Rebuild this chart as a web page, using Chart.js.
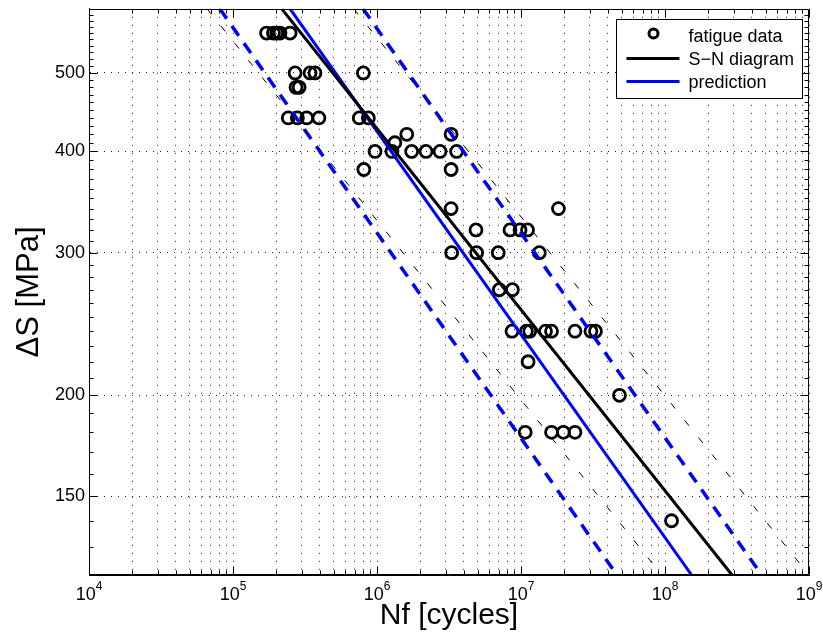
<!DOCTYPE html>
<html>
<head>
<meta charset="utf-8">
<script src="https://cdn.jsdelivr.net/npm/chart.js@4.4.1/dist/chart.umd.min.js"></script>
<style>
  html, body { margin: 0; padding: 0; background: #fff; }
  #wrap { width: 823px; height: 639px; position: relative; }
</style>
</head>
<body>
<div id="wrap"><canvas id="snChart"></canvas></div>
<script>
// -------------------------
// Data
// -------------------------
// fatigue tests: cycles to failure / stress range [MPa]
const testCycles = [
  1.71e5, 1.91e5, 2.01e5, 2.12e5, 2.49e5,
  2.70e5, 3.43e5, 3.71e5, 8.04e5,
  2.74e5, 2.88e5,
  2.42e5, 2.80e5, 3.25e5, 3.95e5, 7.53e5, 8.71e5,
  1.61e6, 3.27e6,
  1.33e6,
  9.69e5, 1.27e6, 1.74e6, 2.19e6, 2.74e6, 3.57e6,
  8.10e5, 3.27e6,
  3.27e6, 1.82e7,
  4.87e6, 8.39e6, 9.85e6, 1.11e7,
  3.30e6, 4.92e6, 6.95e6, 1.34e7,
  7.07e6, 8.71e6,
  8.66e6, 1.09e7, 1.15e7, 1.48e7, 1.63e7, 2.37e7, 3.06e7, 3.29e7,
  1.12e7,
  4.83e7,
  1.07e7, 1.63e7, 1.97e7, 2.37e7,
  1.11e8,
];
const testStress = [
  560, 560, 560, 560, 560,
  500, 500, 500, 500,
  480, 480,
  440, 440, 440, 440, 440, 440,
  420, 420,
  410,
  400, 400, 400, 400, 400, 400,
  380, 380,
  340, 340,
  320, 320, 320, 320,
  300, 300, 300, 300,
  270, 270,
  240, 240, 240, 240, 240, 240, 240, 240,
  220,
  200,
  180, 180, 180, 180,
  140,
];

// curves: end points where they leave the axes (stress 600 -> 120)
const curveStress = [600, 120];
const snCycles = [2.18e5, 2.92e8];
const snLowerCycles = [6.6e4, 9.5e7];
const snUpperCycles = [6.9e5, 1.0e9];
const predCycles = [2.49e5, 1.53e8];
const predLowerCycles = [8.1e4, 4.64e7];
const predUpperCycles = [8.0e5, 4.69e8];

// axes
const xDecades = [4, 5, 6, 7, 8, 9];
const yTickValues = [150, 200, 300, 400, 500];
const yMinorStep = 10;

const FONT = "'Liberation Sans', Arial, Helvetica, sans-serif";
const BLUE = "#0000ff";

const toPoints = (xs, ys) => xs.map((x, i) => ({ x, y: ys[i] }));

// all 1..9 x 10^k ticks for the log x axis
function logXTicks() {
  const out = [];
  xDecades.forEach(k => {
    const top = k === xDecades[xDecades.length - 1] ? 1 : 9;
    for (let m = 1; m <= top; m++) out.push({ value: m * 10 ** k, major: m === 1 });
  });
  return out;
}

function yMinorValues(min, max) {
  const out = [];
  for (let v = Math.ceil(min / yMinorStep) * yMinorStep; v <= max; v += yMinorStep) {
    if (!yTickValues.includes(v)) out.push(v);
  }
  return out;
}

// -------------------------
// Inward ticks, box, x labels with exponents
// -------------------------
const matlabAxes = {
  id: "matlabAxes",
  afterDatasetsDraw(chart) {
    const { ctx, chartArea: a, scales: { x, y } } = chart;
    const L = Math.round(a.left) + 0.5, R = Math.round(a.right) - 0.5;
    const T = Math.round(a.top) + 0.5, B = Math.round(a.bottom) - 0.5;
    ctx.save();
    ctx.strokeStyle = "#000";
    ctx.lineWidth = 1;
    ctx.beginPath();
    ctx.rect(L, T, R - L, B - T);

    x.ticks.forEach(t => {
      const px = Math.round(x.getPixelForValue(t.value)) + 0.5;
      const len = t.major ? 8 : 4;
      ctx.moveTo(px, B); ctx.lineTo(px, B - len);
      ctx.moveTo(px, T); ctx.lineTo(px, T + len);
    });
    yTickValues.forEach(v => {
      const py = Math.round(y.getPixelForValue(v)) + 0.5;
      ctx.moveTo(L, py); ctx.lineTo(L + 8, py);
      ctx.moveTo(R, py); ctx.lineTo(R - 8, py);
    });
    yMinorValues(y.min, y.max).forEach(v => {
      const py = Math.round(y.getPixelForValue(v)) + 0.5;
      ctx.moveTo(L, py); ctx.lineTo(L + 4, py);
      ctx.moveTo(R, py); ctx.lineTo(R - 4, py);
    });
    ctx.stroke();

    // 10^k labels
    ctx.fillStyle = "#000";
    ctx.textBaseline = "alphabetic";
    ctx.textAlign = "left";
    xDecades.forEach(k => {
      const px = x.getPixelForValue(10 ** k);
      ctx.font = `18px ${FONT}`;
      const wb = ctx.measureText("10").width;
      ctx.font = `12px ${FONT}`;
      const we = ctx.measureText(String(k)).width;
      const start = px - (wb + we) / 2;
      ctx.font = `18px ${FONT}`;
      ctx.fillText("10", start, a.bottom + 25);
      ctx.font = `12px ${FONT}`;
      ctx.fillText(String(k), start + wb, a.bottom + 15);
    });
    ctx.restore();
  },
};

// -------------------------
// Legend box (top right, inside axes)
// -------------------------
const boxLegend = {
  id: "boxLegend",
  afterDraw(chart) {
    const { ctx } = chart;
    const entries = chart.data.datasets.filter(d => d.inLegend);
    const bx = 616.5, by = 19.5, bw = 186, bh = 79;
    ctx.save();
    ctx.fillStyle = "#fff";
    ctx.fillRect(bx, by, bw, bh);
    ctx.strokeStyle = "#000";
    ctx.lineWidth = 1;
    ctx.strokeRect(bx, by, bw, bh);
    ctx.font = `18px ${FONT}`;
    ctx.textBaseline = "alphabetic";
    ctx.fillStyle = "#000";
    entries.forEach((d, i) => {
      const rowY = by + 16 + i * 23;
      ctx.strokeStyle = d.borderColor;
      ctx.lineWidth = d.showLine ? d.borderWidth : 3;
      ctx.beginPath();
      if (d.showLine) {
        ctx.moveTo(bx + 10, rowY);
        ctx.lineTo(bx + 63, rowY);
      } else {
        ctx.arc(bx + 37, rowY - 2, 4.5, 0, Math.PI * 2);
      }
      ctx.stroke();
      ctx.fillText(d.label, bx + 72, rowY + 6.5);
    });
    ctx.restore();
  },
};

// -------------------------
// Chart
// -------------------------
const lineSet = (label, xs, color, width, dash, inLegend) => ({
  label,
  data: toPoints(xs, curveStress),
  showLine: true,
  borderColor: color,
  borderWidth: width,
  borderDash: dash,
  pointRadius: 0,
  fill: false,
  inLegend,
  order: 1,
});

new Chart(document.getElementById("snChart"), {
  type: "scatter",
  data: {
    datasets: [
      {
        label: "fatigue data",
        data: toPoints(testCycles, testStress),
        showLine: false,
        borderColor: "#000",
        backgroundColor: "rgba(0,0,0,0)",
        borderWidth: 2.8,
        pointRadius: 6,
        pointStyle: "circle",
        inLegend: true,
        order: 10,
      },
      lineSet("S−N diagram", snCycles, "#000", 3, [], true),
      lineSet("prediction", predCycles, BLUE, 3, [], true),
      lineSet("S−N lower", snLowerCycles, "#000", 1, [7, 15], false),
      lineSet("S−N upper", snUpperCycles, "#000", 1, [7, 15], false),
      lineSet("prediction lower", predLowerCycles, BLUE, 3.5, [12, 9], false),
      lineSet("prediction upper", predUpperCycles, BLUE, 3.5, [12, 9], false),
    ],
  },
  options: {
    responsive: true,
    maintainAspectRatio: false,
    animation: false,
    layout: { padding: { top: 8, right: 14, left: 0, bottom: 0 } },
    plugins: { legend: { display: false }, tooltip: { enabled: false } },
    scales: {
      x: {
        type: "logarithmic",
        position: "bottom",
        min: 1e4,
        max: 1e9,
        afterBuildTicks: s => { s.ticks = logXTicks(); },
        afterFit: s => { s.height = 64; s.paddingLeft = 0; s.paddingRight = 0; },
        ticks: { display: false },
        grid: { color: "rgba(0,0,0,0.85)", lineWidth: 1, drawTicks: false },
        border: { display: true, color: "#000", width: 1, dash: [1, 7] },
        title: {
          display: true,
          text: "Nf [cycles]",
          color: "#000",
          font: { family: FONT, size: 30 },
          padding: { top: 0, bottom: 5 },
        },
      },
      y: {
        type: "logarithmic",
        position: "left",
        min: 120,
        max: 600,
        afterBuildTicks: s => { s.ticks = yTickValues.map(v => ({ value: v })); },
        afterFit: s => { s.width = 89; s.paddingTop = 0; s.paddingBottom = 0; },
        ticks: {
          autoSkip: false,
          padding: 4,
          color: "#000",
          font: { family: FONT, size: 18 },
          callback: v => String(v),
        },
        grid: { color: "rgba(0,0,0,0.85)", lineWidth: 1, drawTicks: false },
        border: { display: true, color: "#000", width: 1, dash: [1, 6] },
        title: {
          display: true,
          text: "ΔS [MPa]",
          color: "#000",
          font: { family: FONT, size: 31 },
          padding: { top: 11, bottom: 0 },
        },
      },
    },
  },
  plugins: [matlabAxes, boxLegend],
});
</script>
</body>
</html>
